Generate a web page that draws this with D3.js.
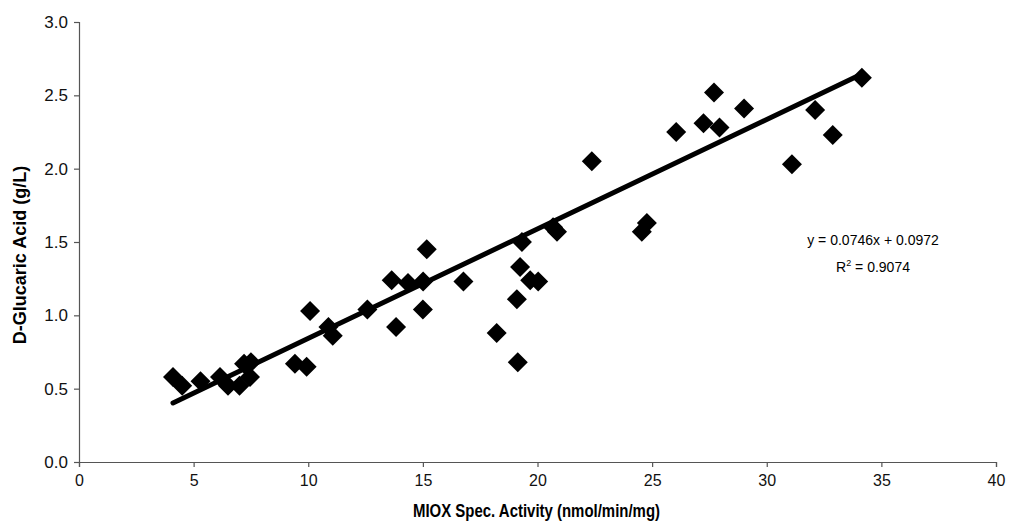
<!DOCTYPE html>
<html><head><meta charset="utf-8">
<script src="https://cdn.jsdelivr.net/npm/d3@7"></script>
<style>body{margin:0;background:#fff}svg{display:block}text{font-family:"Liberation Sans",Arial,sans-serif}</style>
</head><body>
<svg id="c" width="1013" height="531"></svg>
<script>
const xValues = [4.1,4.5,5.3,6.15,6.5,7.0,7.2,7.5,7.46,9.42,9.93,10.08,10.88,11.07,12.58,13.64,13.83,14.35,15.01,15.0,15.17,16.77,18.22,19.1,19.14,19.32,19.24,19.68,20.03,20.68,20.85,22.37,24.55,24.77,26.05,27.24,27.7,27.94,29.01,31.1,32.11,32.88,34.15];
const yValues = [0.58,0.52,0.55,0.58,0.52,0.52,0.67,0.68,0.58,0.67,0.65,1.03,0.92,0.86,1.04,1.24,0.92,1.22,1.23,1.04,1.45,1.23,0.88,1.11,0.68,1.50,1.33,1.24,1.23,1.60,1.57,2.05,1.57,1.63,2.25,2.31,2.52,2.28,2.41,2.03,2.40,2.23,2.62];
const xTicks = [0,5,10,15,20,25,30,35,40];
const yTicks = [0,0.5,1.0,1.5,2.0,2.5,3.0];
const slope = 0.0746, intercept = 0.0972;
const eqText = "y = 0.0746x + 0.0972";
const r2Value = "0.9074";

const svg = d3.select("#c");
const x = d3.scaleLinear().domain([0,40]).range([79,996]);
const y = d3.scaleLinear().domain([0,3]).range([462,22]);

const gx = svg.append("g").attr("transform","translate(0,462)")
  .call(d3.axisBottom(x).tickValues(xTicks).tickSize(5).tickPadding(8).tickFormat(d3.format("d")));
const gy = svg.append("g").attr("transform","translate(79,0)")
  .call(d3.axisLeft(y).tickValues(yTicks).tickSize(5).tickPadding(6).tickFormat(d3.format(".1f")));
[gx,gy].forEach(g=>{
  g.selectAll("path,line").attr("stroke","#555").attr("stroke-width",1.2);
  g.selectAll("text").attr("fill","#111").style("font-family","'Liberation Sans',Arial,sans-serif");
});
gx.selectAll("text").attr("font-size",16);
gy.selectAll("text").attr("font-size",17);

const pts = xValues.map((v,i)=>[v,yValues[i]]);
const h = 10;
svg.append("g").selectAll("path").data(pts).join("path")
  .attr("d", d => { const cx=x(d[0]), cy=y(d[1]); return `M${cx},${cy-h}L${cx+h},${cy}L${cx},${cy+h}L${cx-h},${cy}Z`; })
  .attr("fill","#000");

const x0 = d3.min(xValues), x1 = d3.max(xValues);
svg.append("line")
  .attr("x1",x(x0)).attr("y1",y(slope*x0+intercept))
  .attr("x2",x(x1)).attr("y2",y(slope*x1+intercept))
  .attr("stroke","#000").attr("stroke-width",5).attr("stroke-linecap","round");

svg.append("text").attr("x",873).attr("y",245).attr("text-anchor","middle").attr("font-size",14).text(eqText);
const r = svg.append("text").attr("x",873).attr("y",272).attr("text-anchor","middle").attr("font-size",14);
r.append("tspan").text("R");
r.append("tspan").attr("font-size",9).attr("dy",-6).text("2");
r.append("tspan").attr("dy",6).text(" = " + r2Value);

svg.append("text").attr("x",413).attr("y",517).attr("font-size",18).attr("font-weight","bold")
  .attr("textLength",247).attr("lengthAdjust","spacingAndGlyphs").text("MIOX Spec. Activity (nmol/min/mg)");
svg.append("text").attr("transform","translate(26,255) rotate(-90)").attr("text-anchor","middle").attr("font-size",18).attr("font-weight","bold").text("D-Glucaric Acid (g/L)");
</script>
</body></html>
